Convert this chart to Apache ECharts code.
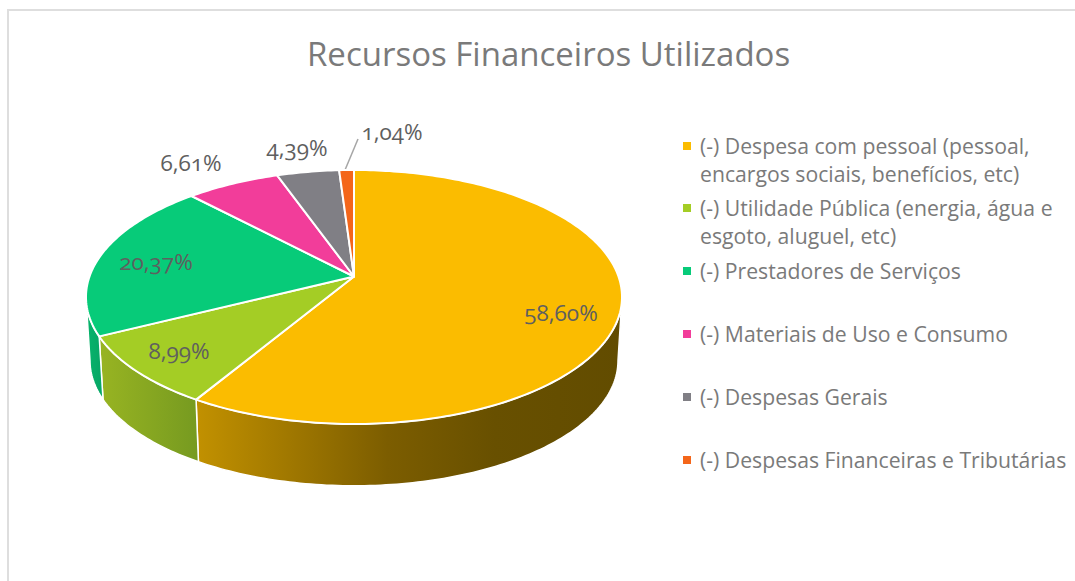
<!DOCTYPE html>
<html>
<head>
<meta charset="utf-8">
<title>Recursos Financeiros Utilizados</title>
<style>
    html, body { margin: 0; padding: 0; background: #fff; }
    /* numerais antigos, como na fonte do original */
    #chart { width: 1075px; height: 581px; font-feature-settings: "onum" 1; }
</style>
<script src="https://cdn.jsdelivr.net/npm/echarts@6/dist/echarts.min.js"></script>
</head>
<body>
<div id="chart"></div>
<script>
    var titleText = 'Recursos Financeiros Utilizados';
    var categories = [
        '(-) Despesa com pessoal (pessoal,\nencargos sociais, benefícios, etc)',
        '(-) Utilidade Pública (energia, água e\nesgoto, aluguel, etc)',
        '(-) Prestadores de Serviços',
        '(-) Materiais de Uso e Consumo',
        '(-) Despesas Gerais',
        '(-) Despesas Financeiras e Tributárias'
    ];
    var values = [58.60, 8.99, 20.37, 6.61, 4.39, 1.04];
    var colors = ['#fbbc00', '#a4cd25', '#07cb79', '#f23d9a', '#807f85', '#f4661a'];

    // gradiente da parede lateral (só as fatias da frente aparecem)
    var wallColors = [
        [[0, '#c29100'], [0.45, '#7c5d00'], [0.7, '#685000'], [1, '#624c00']],
        [[0, '#98b422'], [1, '#769a20']],
        [[0, '#07b56c'], [1, '#07a565']]
    ];

    // posição dos rótulos na tela
    var labelPos = [[561, 312], [179, 350], [156, 261], [191, 162], [297, 147], [392, 131]];
    var legendY = [145, 207, 270, 333, 396, 459];

    var font = '"Open Sans", sans-serif';

    // projeção em perspectiva do disco
    var cx = 354, cy = 276.5, A = 264.5, B = 123.7, q = 0.1614;
    var depth = 64, bottomScale = 0.985;

    function project(deg, r, down, scale) {
        var t = deg * Math.PI / 180;
        var w = 1 + q * r * Math.cos(t);
        return [
            cx + scale * A * r * Math.sin(t) / w,
            cy + down - scale * B * r * Math.cos(t) / w
        ];
    }

    function arc(from, to, down, scale) {
        var pts = [];
        var n = Math.max(2, Math.ceil(Math.abs(to - from)));
        for (var i = 0; i <= n; i++) {
            pts.push(project(from + (to - from) * i / n, 1, down, scale));
        }
        return pts;
    }

    function angles(params, api) {
        var start = api.value(1) * 3.6;
        return [start, start + api.value(0) * 3.6];
    }

    function renderWall(params, api) {
        var a = angles(params, api);
        var side = 180 / Math.PI * Math.acos(-q);
        var from = Math.max(a[0], side), to = Math.min(a[1], 360 - side);
        if (from >= to) return null;
        var stops = wallColors[params.dataIndex] || wallColors[0];
        return {
            type: 'polygon',
            shape: { points: arc(from, to, 0, 1).concat(arc(to, from, depth, bottomScale)) },
            style: {
                stroke: '#fff',
                lineWidth: 1.5,
                fill: {
                    type: 'linear', x: 0, y: 0, x2: 1, y2: 0,
                    colorStops: stops.map(function (s) { return { offset: s[0], color: s[1] }; })
                }
            }
        };
    }

    function renderTop(params, api) {
        var a = angles(params, api);
        return {
            type: 'polygon',
            shape: { points: [[cx, cy]].concat(arc(a[0], a[1], 0, 1)) },
            style: { fill: colors[params.dataIndex], stroke: '#fff', lineWidth: 2, lineJoin: 'round' }
        };
    }

    function renderLabel(params, api) {
        var p = labelPos[params.dataIndex];
        return {
            type: 'text',
            style: {
                text: api.value(0).toFixed(2).replace('.', ',') + '%',
                x: p[0], y: p[1],
                fill: '#5f5f5f',
                fontSize: 22.5,
                fontFamily: font,
                textAlign: 'center',
                textVerticalAlign: 'middle'
            }
        };
    }

    var sliceData = [];
    var sum = 0;
    values.forEach(function (v) {
        sliceData.push([v, sum]);
        sum += v;
    });

    var legendItems = [];
    categories.forEach(function (name, i) {
        legendItems.push({
            type: 'rect',
            shape: { x: 683, y: legendY[i] - 3, width: 8, height: 8 },
            style: { fill: colors[i] }
        });
        legendItems.push({
            type: 'text',
            style: {
                text: name,
                x: 700, y: legendY[i] - 14,
                fill: '#7a7a7a',
                fontSize: 21.2,
                lineHeight: 28.5,
                fontFamily: font
            }
        });
    });

    // moldura do gráfico
    var frame = [
        { type: 'rect', shape: { x: 7, y: 9, width: 1068, height: 2 }, style: { fill: '#dedede' } },
        { type: 'rect', shape: { x: 7, y: 9, width: 2, height: 572 }, style: { fill: '#dedede' } },
        { type: 'line', shape: { x1: 345, y1: 170, x2: 358, y2: 139 }, style: { stroke: '#a6a6a6', lineWidth: 1.5 } }
    ];

    var myChart = echarts.init(document.getElementById('chart'), null, { renderer: 'svg' });
    myChart.setOption({
        animation: false,
        backgroundColor: '#fff',
        title: {
            text: titleText,
            left: 302,
            top: 32,
            textStyle: { color: '#7a7a7a', fontSize: 33, fontWeight: 'normal', fontFamily: font }
        },
        graphic: { elements: frame.concat(legendItems) },
        series: [
            { type: 'custom', coordinateSystem: 'none', renderItem: renderWall, data: sliceData, z: 1 },
            { type: 'custom', coordinateSystem: 'none', renderItem: renderTop, data: sliceData, z: 2 },
            { type: 'custom', coordinateSystem: 'none', renderItem: renderLabel, data: sliceData, z: 3 }
        ]
    });
</script>
</body>
</html>
